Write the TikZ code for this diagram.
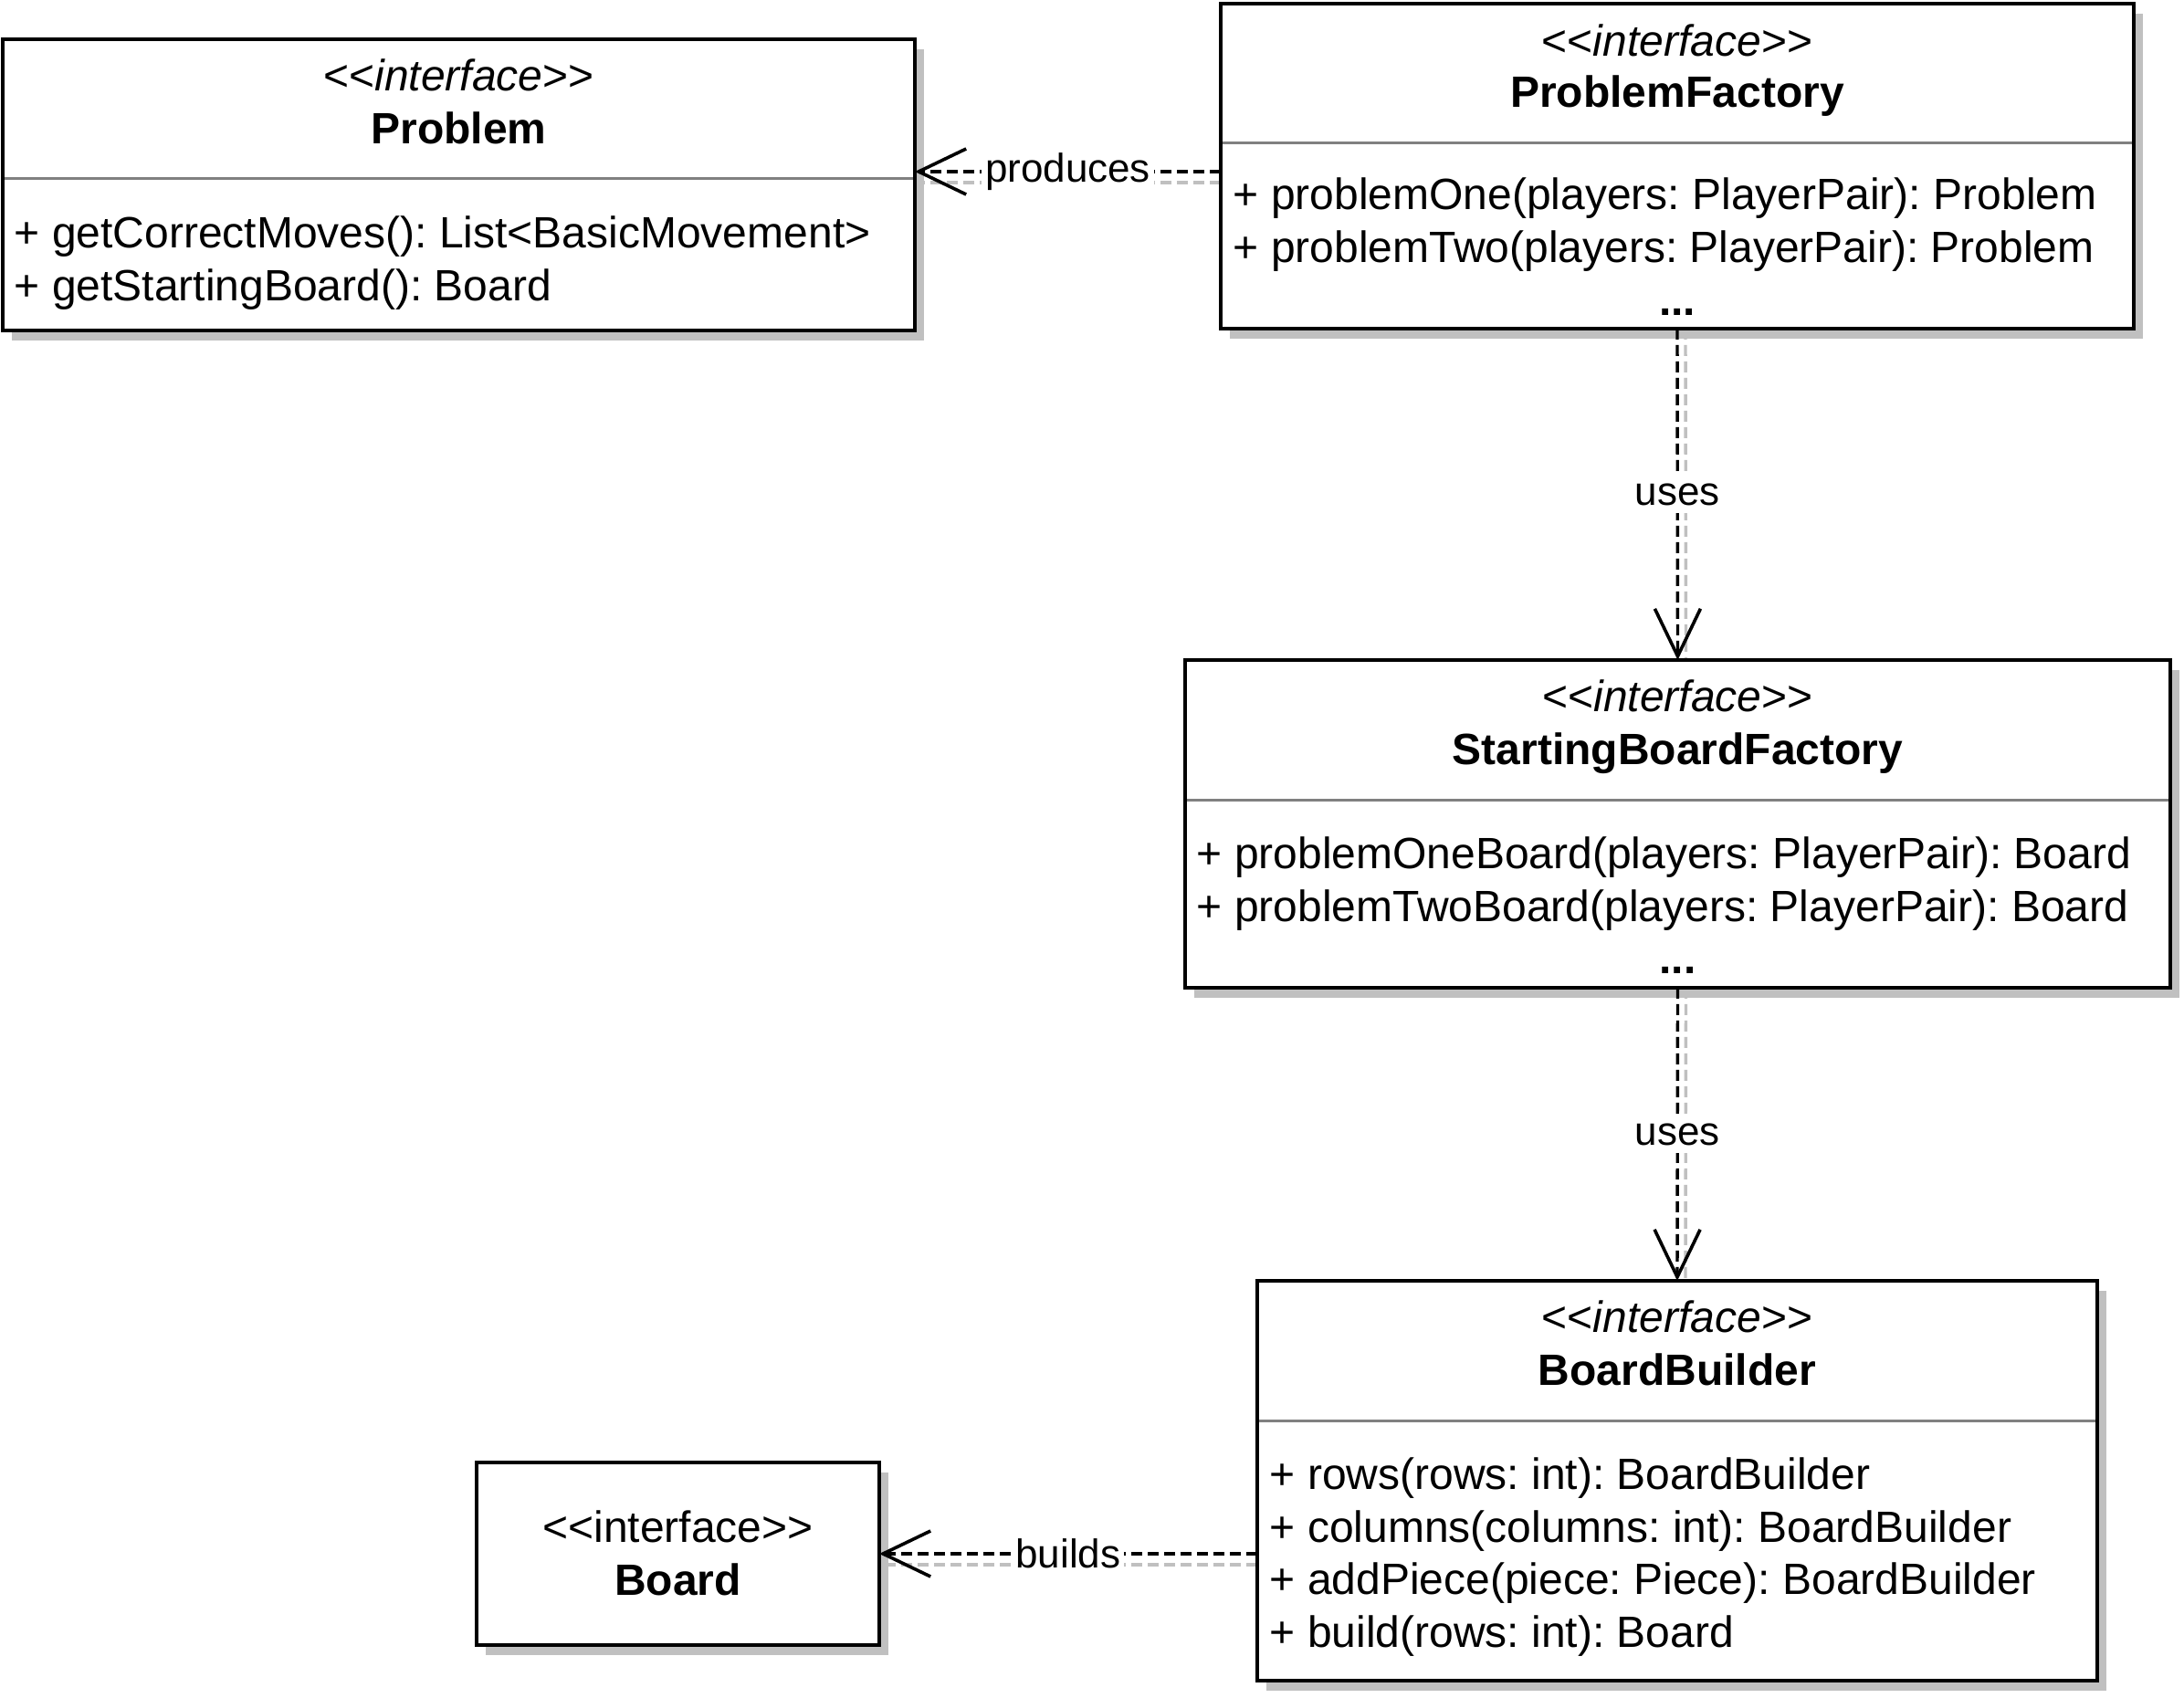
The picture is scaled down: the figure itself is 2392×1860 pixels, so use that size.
\documentclass[tikz,border=0pt]{standalone}
\usepackage{fontspec}
\setmainfont{Liberation Sans}
\usepackage{tikz}
\usetikzlibrary{arrows.meta,positioning,calc,shadows,backgrounds}

\definecolor{umlshadow}{HTML}{C0C0C0}
\definecolor{umldivider}{HTML}{808080}

\tikzset{
  umlbox/.style={draw, line width=1pt, fill=white, inner sep=0pt, outer sep=0pt,
    drop shadow={shadow xshift=2.5pt, shadow yshift=-2.75pt, fill=umlshadow, opacity=1}},
  divider/.style={draw=umldivider, line width=0.75pt, shorten <=0.5pt, shorten >=0.5pt},
  stereo/.style={anchor=base, inner sep=0pt},
  umlname/.style={anchor=base, inner sep=0pt, font=\fontsize{12}{14.5}\selectfont\bfseries},
  member/.style={anchor=base west, inner sep=0pt},
  dep/.style={line width=0.85pt, dash pattern=on 3pt off 1.5pt,
    -{Straight Barb[length=13pt, width=12.5pt, line width=0.9pt]}},
  depshadow/.style={draw=umlshadow, line width=0.85pt, dash pattern=on 3pt off 1.5pt},
  deplabel/.style={fill=white, inner xsep=1pt, inner ysep=2pt, font=\fontsize{11}{13}\selectfont}
}

\begin{document}
\frenchspacing
\begin{tikzpicture}[x=0.25pt, y=-0.25pt, font=\fontsize{12}{14.5}\selectfont]
    \useasboundingbox (0,0) rectangle (2392,1860);

    \node[umlbox, minimum width=249.75pt, minimum height=79.75pt] (prob) at (502.5,202.5) {};
    \node[stereo] (prob-st) at (502.5,100) {<{}<\textit{interface}>{}>};
    \node[umlname] (prob-name) at (502.5,158) {Problem};
    \draw[divider] (prob.west |- 0,196) -- (prob.east |- 0,196);
    \node[member] (prob-m1) at (15,272) {+ getCorrectMoves(): List<BasicMovement>};
    \node[member] (prob-m2) at (15,330) {+ getStartingBoard(): Board};

    \node[umlbox, minimum width=250pt, minimum height=89pt] (pf) at (1837,182) {};
    \node[stereo] (pf-st) at (1837,62) {<{}<\textit{interface}>{}>};
    \node[umlname] (pf-name) at (1837,118) {ProblemFactory};
    \draw[divider] (pf.west |- 0,157) -- (pf.east |- 0,157);
    \node[member] (pf-m1) at (1350,230) {+ problemOne(players: PlayerPair): Problem};
    \node[member] (pf-m2) at (1350,288) {+ problemTwo(players: PlayerPair): Problem};
    \node[umlname] (pf-more) at (1837,346) {...};

    \node[umlbox, minimum width=269.75pt, minimum height=89.75pt] (sbf) at (1837.5,902.5) {};
    \node[stereo] (sbf-st) at (1837.5,780) {<{}<\textit{interface}>{}>};
    \node[umlname] (sbf-name) at (1837.5,838) {StartingBoardFactory};
    \draw[divider] (sbf.west |- 0,877) -- (sbf.east |- 0,877);
    \node[member] (sbf-m1) at (1310,952) {+ problemOneBoard(players: PlayerPair): Board};
    \node[member] (sbf-m2) at (1310,1010) {+ problemTwoBoard(players: PlayerPair): Board};
    \node[umlname] (sbf-more) at (1837.5,1067) {...};

    \node[umlbox, minimum width=230pt, minimum height=109.5pt] (bb) at (1837,1622) {};
    \node[stereo] (bb-st) at (1837,1460) {<{}<\textit{interface}>{}>};
    \node[umlname] (bb-name) at (1837,1518) {BoardBuilder};
    \draw[divider] (bb.west |- 0,1557) -- (bb.east |- 0,1557);
    \node[member] (bb-m1) at (1390,1632) {+ rows(rows: int): BoardBuilder};
    \node[member] (bb-m2) at (1390,1690) {+ columns(columns: int): BoardBuilder};
    \node[member] (bb-m3) at (1390,1747) {+ addPiece(piece: Piece): BoardBuilder};
    \node[member] (bb-m4) at (1390,1805) {+ build(rows: int): Board};

    \node[umlbox, minimum width=110.25pt, minimum height=50pt] (board) at (742.5,1702) {};
    \node[stereo] (board-st) at (742.5,1690) {<{}<interface>{}>};
    \node[umlname] (board-name) at (742.5,1748) {Board};

    \begin{scope}[on background layer]
      \draw[depshadow, transform canvas={yshift=-3pt}] ([yshift=-1.5pt]pf.west) -- ([yshift=-1.5pt]prob.east |- pf.west);
      \draw[depshadow, transform canvas={xshift=2.25pt}] (pf.south) -- (sbf.north);
      \draw[depshadow, transform canvas={xshift=2.25pt}] (sbf.south) -- (bb.north);
      \draw[depshadow, transform canvas={yshift=-3pt}] (bb.west |- board.east) -- (board.east);
    \end{scope}

    \draw[dep] ([yshift=-1.5pt]pf.west) -- node[deplabel] (lbl-produces) {produces} ([yshift=-1.5pt]prob.east |- pf.west);
    \draw[dep] (pf.south) -- node[deplabel] (lbl-uses1) {uses} (sbf.north);
    \draw[dep] (sbf.south) -- node[deplabel] (lbl-uses2) {uses} (bb.north);
    \draw[dep] (bb.west |- board.east) -- node[deplabel] (lbl-builds) {builds} (board.east);
\end{tikzpicture}
\end{document}
